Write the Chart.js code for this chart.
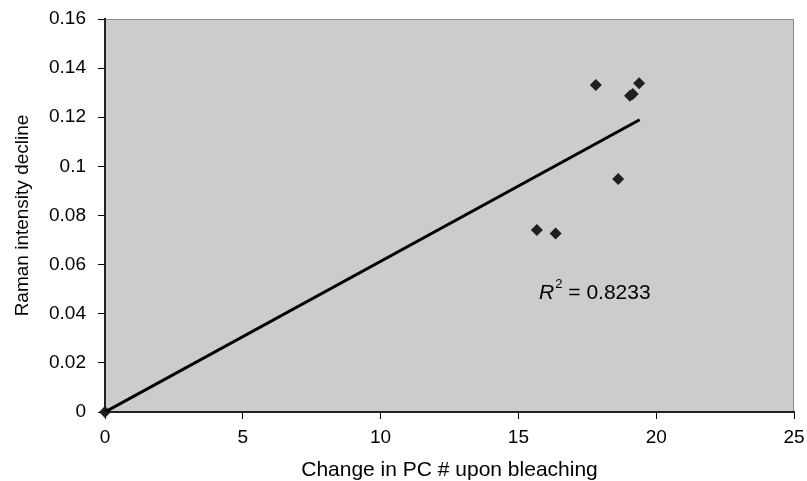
<!DOCTYPE html>
<html>
<head>
<meta charset="utf-8">
<script src="https://cdn.jsdelivr.net/npm/chart.js@4"></script>
<style>
  html, body { margin: 0; padding: 0; background: #ffffff; }
  #wrap { width: 807px; height: 481px; }
</style>
</head>
<body>
<div id="wrap"><canvas id="ramanChart" width="807" height="481"></canvas></div>
<script>
// data
var pcChange   = [0, 15.67, 16.35, 17.81, 19.05, 19.15, 19.38, 18.62];
var ramanDrop  = [0, 0.0741, 0.0727, 0.1331, 0.1288, 0.1295, 0.1338, 0.0949];
var trendX     = [0, 19.4];
var trendY     = [0, 0.119];
var xTicks     = [0, 5, 10, 15, 20, 25];
var yTicks     = [0, 0.02, 0.04, 0.06, 0.08, 0.1, 0.12, 0.14, 0.16];
var rSquared   = "0.8233";

var FONT = "'Liberation Sans', Arial, sans-serif";

var plotBg = {
  id: 'plotBg',
  beforeDraw: function(chart) {
    var a = chart.chartArea, ctx = chart.ctx;
    ctx.save();
    ctx.fillStyle = '#cccccc';
    ctx.fillRect(a.left, a.top, a.right - a.left, a.bottom - a.top);
    // top and right frame, gray
    ctx.strokeStyle = '#8c8c8c';
    ctx.lineWidth = 1;
    ctx.beginPath();
    ctx.moveTo(a.left, a.top + 0.5);
    ctx.lineTo(a.right - 0.5, a.top + 0.5);
    ctx.lineTo(a.right - 0.5, a.bottom);
    ctx.stroke();
    ctx.restore();
  },
  afterDatasetsDraw: function(chart) {
    var ctx = chart.ctx;
    var xs = chart.scales.x, ys = chart.scales.y;
    var px = xs.getPixelForValue(15.75), py = ys.getPixelForValue(0.0485);
    ctx.save();
    ctx.fillStyle = '#000000';
    ctx.textBaseline = 'middle';
    ctx.font = 'italic 21px ' + FONT;
    ctx.fillText('R', px, py);
    var w = ctx.measureText('R').width;
    ctx.font = '13px ' + FONT;
    ctx.fillText('2', px + w + 1, py - 8);
    var w2 = ctx.measureText('2').width;
    ctx.font = '21px ' + FONT;
    ctx.fillText(' = ' + rSquared, px + w + w2 + 1, py);
    ctx.restore();
  }
};

var pts = pcChange.map(function(v, i) { return { x: v, y: ramanDrop[i] }; });
var trend = trendX.map(function(v, i) { return { x: v, y: trendY[i] }; });

new Chart(document.getElementById('ramanChart').getContext('2d'), {
  type: 'scatter',
  data: {
    datasets: [
      {
        type: 'line',
        data: trend,
        borderColor: '#000000',
        borderWidth: 3,
        pointRadius: 0,
        fill: false
      },
      {
        data: pts,
        pointStyle: 'rectRot',
        pointRadius: 6,
        pointBackgroundColor: '#1f1f1f',
        pointBorderColor: '#1f1f1f',
        pointBorderWidth: 0,
        clip: false
      }
    ]
  },
  options: {
    responsive: false,
    animation: false,
    layout: { padding: { top: 19, right: 13, left: 0, bottom: 0 } },
    plugins: {
      legend: { display: false },
      tooltip: { enabled: false }
    },
    scales: {
      x: {
        type: 'linear',
        min: 0, max: 25,
        afterBuildTicks: function(s) { s.ticks = xTicks.map(function(v) { return { value: v }; }); },
        afterFit: function(s) { s.height = 69; s.paddingLeft = 0; s.paddingRight = 0; },
        grid: { drawOnChartArea: false, drawTicks: true, tickLength: 7, color: '#000000' },
        border: { display: true, color: '#222222', width: 2 },
        ticks: { color: '#000000', font: { family: FONT, size: 19 }, padding: 7 },
        title: { display: true, text: 'Change in PC # upon bleaching', color: '#000000',
                 font: { family: FONT, size: 21, lineHeight: 1 }, padding: { top: 0, bottom: 0 } }
      },
      y: {
        type: 'linear',
        min: 0, max: 0.16,
        afterBuildTicks: function(s) { s.ticks = yTicks.map(function(v) { return { value: v }; }); },
        afterFit: function(s) { s.width = 105; s.paddingTop = 0; s.paddingBottom = 0; },
        grid: { drawOnChartArea: false, drawTicks: true, tickLength: 7, color: '#000000' },
        border: { display: true, color: '#222222', width: 2 },
        ticks: {
          color: '#000000', font: { family: FONT, size: 19 }, padding: 12,
          callback: function(v) { return String(Math.round(v * 100) / 100); }
        },
        title: { display: true, text: 'Raman intensity decline', color: '#000000',
                 font: { family: FONT, size: 19, lineHeight: 1 }, padding: { top: 13, bottom: 0 } }
      }
    }
  },
  plugins: [plotBg]
});
</script>
</body>
</html>
